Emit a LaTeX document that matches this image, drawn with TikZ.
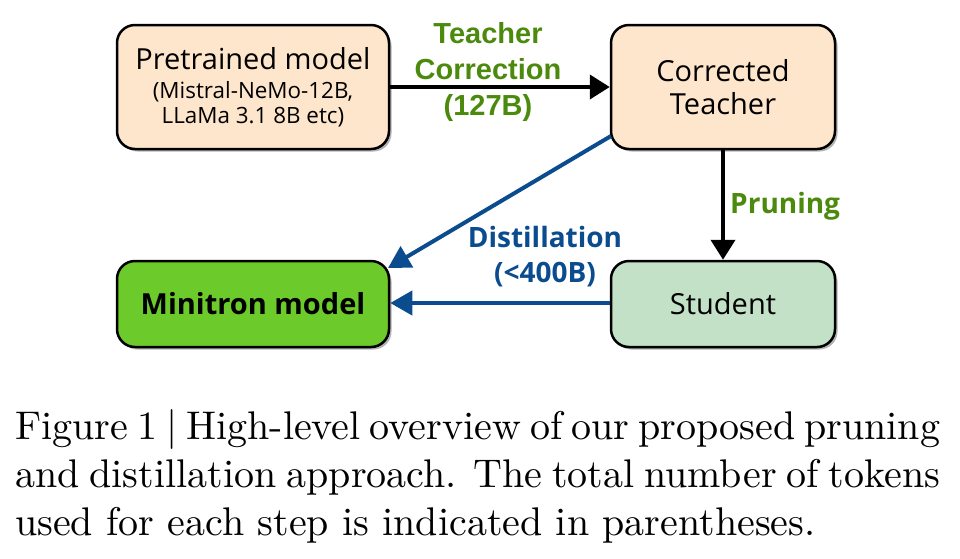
\documentclass[tikz,border=0pt]{standalone}
\usepackage{fontspec}
\setmainfont{lmroman10-regular.otf}
\newfontfamily\boxfont{Open Sans}
\newfontfamily\arialfont{Liberation Sans}
\usetikzlibrary{arrows.meta,shadows}
\definecolor{peach}{HTML}{FDE6CC}
\definecolor{mgreen}{HTML}{6CCB2A}
\definecolor{sgreen}{HTML}{C3E1C6}
\definecolor{lgreen}{HTML}{4C8A0E}
\definecolor{dblue}{HTML}{0B4C8F}
\tikzset{
  boxstyle/.style={draw=black, line width=2.5pt, rounded corners=18pt, inner sep=0pt,
    align=center,
    drop shadow={shadow xshift=2.5pt, shadow yshift=-2.5pt, opacity=0.3, fill=black}},
  boxtext/.style={font=\boxfont\fontsize{29}{33}\selectfont},
  blackarrow/.style={line width=4pt, draw=black, -{Triangle[length=20pt,width=24pt]}},
  bluearrow/.style={line width=4pt, draw=dblue, -{Triangle[length=22pt,width=24pt]}},
  greenlbl/.style={text=lgreen, font=\arialfont\bfseries\fontsize{29}{36}\selectfont, align=center, inner sep=0pt},
  prunelbl/.style={text=lgreen, font=\boxfont\bfseries\fontsize{28}{35}\selectfont, inner sep=0pt},
  bluelbl/.style={text=dblue, font=\boxfont\bfseries\fontsize{28}{35}\selectfont, align=center, inner sep=0pt},
}
\begin{document}
\begin{tikzpicture}[x=1pt,y=-1pt]
\useasboundingbox (0,0) rectangle (960,558);
\node[boxstyle, fill=peach, minimum width=272pt, minimum height=124pt,
  font=\boxfont\fontsize{22.4}{25}\selectfont] (pre) at (253,87)
  {{\fontsize{29}{31}\selectfont Pretrained model}\\[4pt](Mistral-NeMo-12B,\\LLaMa 3.1 8B etc)};
\node[boxstyle, boxtext, fill=peach, minimum width=224pt, minimum height=124pt] (teach) at (723,87)
  {Corrected\\Teacher};
\node[boxstyle, boxtext, fill=mgreen, minimum width=272pt, minimum height=86pt] (mini) at (253,304)
  {\bfseries Minitron model};
\node[boxstyle, boxtext, fill=sgreen, minimum width=224pt, minimum height=86pt] (stud) at (723,304)
  {Student};
\draw[blackarrow] (pre.east |- 0,87) -- (teach.west |- 0,87);
\draw[blackarrow] (teach.south) -- (stud.north);
\coordinate (dstart) at (611,136);
\coordinate (dend) at (388,268);
\draw[bluearrow] (dstart) -- (dend);
\draw[bluearrow] (stud.west |- 0,303) -- (mini.east |- 0,303);
\node[greenlbl] (tc) at (488,72) {Teacher\\Correction\\(127B)};
\node[prunelbl, anchor=base west] (pr) at (730,213) {Pruning};
\node[bluelbl] (dl) at (545,257) {Distillation\\(<400B)};
\node[anchor=base west, inner sep=0pt] (cap) at (15,439)
  {\parbox[t]{925pt}{\fontsize{40}{48}\selectfont Figure 1 | High-level overview of our proposed pruning\linebreak and distillation approach. The total number of tokens\linebreak used for each step is indicated in parentheses.}};
\end{tikzpicture}
\end{document}
